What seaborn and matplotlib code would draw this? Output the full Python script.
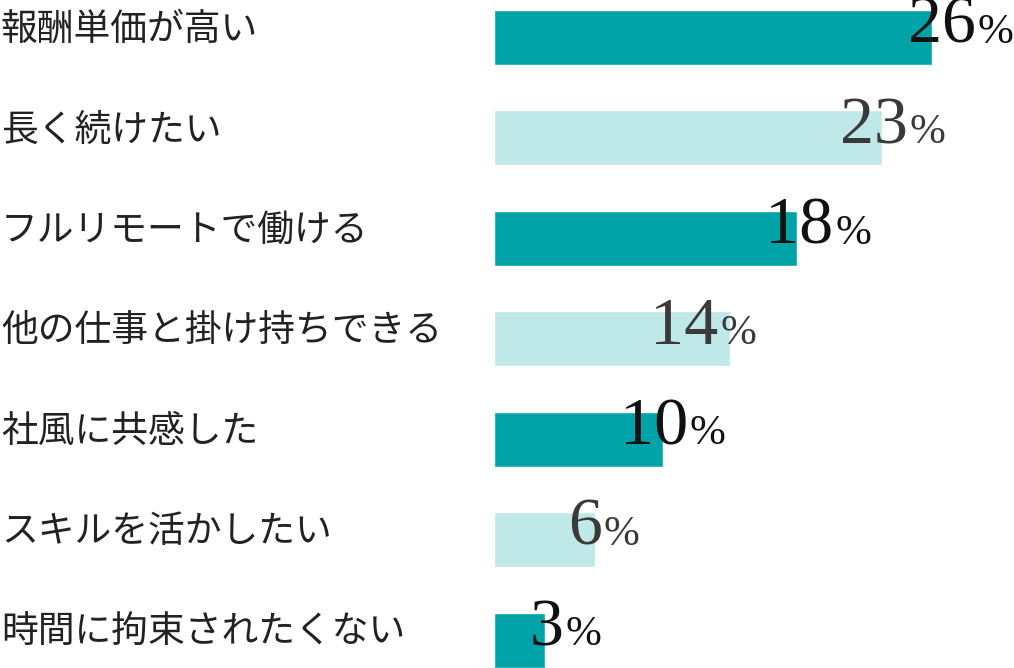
import matplotlib
matplotlib.use("Agg")
import matplotlib.pyplot as plt
import matplotlib.transforms as mtransforms
import seaborn as sns

reasons = ["報酬単価が高い", "長く続けたい", "フルリモートで働ける",
           "他の仕事と掛け持ちできる", "社風に共感した", "スキルを活かしたい",
           "時間に拘束されたくない"]
shares = [26, 23, 18, 14, 10, 6, 3]

bar_colors = ["#00A3A8", "#BFE8E8"] * 4
text_colors = ["#111111", "#3a3a3a"] * 4
# hand-tuned label shift (px) relative to bar end, as in the original
label_shift = [-24, -42, -32, -80, -43, -27, -15]

sns.set_theme(style="white")
plt.rcParams["font.family"] = ["Noto Sans CJK JP", "DejaVu Sans"]

fig = plt.figure(figsize=(10.14, 6.68), dpi=100)
px_per_unit = 16.85
ax = fig.add_axes([494 / 1014, 0, 520 / 1014, 1])

sns.barplot(x=shares, y=reasons, hue=reasons, palette=bar_colors[:len(shares)],
            orient="h", width=0.547, legend=False, saturation=1, ax=ax)
ax.set_xlim(0, 520 / px_per_unit)
ax.set_ylim(len(shares) - 1 + 0.274, -0.373)
ax.set_axis_off()

# category labels on the far left
lab_tr = mtransforms.blended_transform_factory(fig.transFigure, ax.transData)
for i, name in enumerate(reasons):
    ax.text(1 / 1014, i - 0.08, name, transform=lab_tr, ha="left", va="center",
            fontsize=26.5, color="#222222")

fig.canvas.draw()
renderer = fig.canvas.get_renderer()
for i, v in enumerate(shares):
    off = mtransforms.offset_copy(ax.transData, fig=fig, x=label_shift[i] * 0.72, y=0, units="points")
    t = ax.text(v, i + 0.05, str(v), transform=off, ha="left", va="baseline",
                fontsize=49, family="Liberation Serif", color=text_colors[i])
    bb = t.get_window_extent(renderer)
    x_end = ax.transData.inverted().transform((bb.x1 + 2, 0))[0]
    ax.text(x_end, i + 0.05, "%", transform=ax.transData, ha="left", va="baseline",
            fontsize=31, family="Liberation Serif", color=text_colors[i])

fig.savefig("out.png", dpi=100)
